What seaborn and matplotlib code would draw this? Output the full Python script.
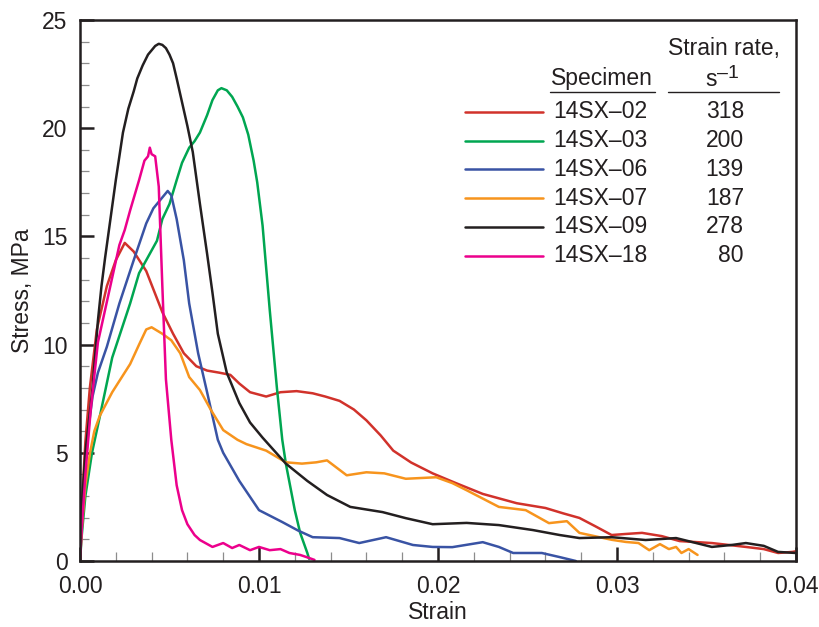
import numpy as np
import pandas as pd
import matplotlib
matplotlib.use("Agg")
import matplotlib.pyplot as plt
from matplotlib.lines import Line2D
from matplotlib.ticker import MultipleLocator, FormatStrFormatter
import seaborn as sns

# ---------------- data ----------------
specimens = ["14SX\u201302", "14SX\u201303", "14SX\u201306", "14SX\u201307", "14SX\u201309", "14SX\u201318"]
strain_rates = ["318", "200", "139", "187", "278", "80"]
colors = ["#d1322b", "#00a651", "#3953a4", "#f7941d", "#231f20", "#ec008c"]

strain_02 = [0, .0001, .0003, .00055, .00094, .0015, .002, .0025, .003, .0037, .0046, .0052, .0058, .0065,
             .0071, .0078, .0084, .0089, .0095, .0104, .0112, .0121, .013, .0137, .0145, .0153, .016, .0168,
             .0175, .0185, .0197, .021, .0225, .0244, .026, .027, .0279, .0288, .0297, .0305, .0314,
             .0325, .0335, .0353, .0372, .0382, .039, .0398, .040]
stress_02 = [0, 2.5, 5.5, 8.0, 10.7, 12.7, 13.9, 14.7, 14.3, 13.4, 11.5, 10.5, 9.6, 9.0,
             8.8, 8.7, 8.6, 8.2, 7.8, 7.6, 7.8, 7.85, 7.75, 7.6, 7.4, 7.0, 6.5, 5.8,
             5.1, 4.55, 4.05, 3.6, 3.1, 2.67, 2.45, 2.2, 1.99, 1.6, 1.2, 1.25, 1.3,
             1.15, 0.92, 0.83, 0.65, 0.55, 0.37, 0.42, 0.45]

strain_03 = [0, .0001, .0003, .00067, .0011, .0018, .0028, .0033, .0037, .0043, .0046, .005, .0054,
             .0057, .0061, .0064, .0067, .0071, .0074, .0077, .0079, .0082, .0085, .0088, .0091,
             .0094, .0097, .0099, .0102, .0106, .011, .0113, .0115, .012, .0123, .0127, .0128]
stress_03 = [0, 1.2, 3.0, 5.0, 6.65, 9.4, 11.9, 13.3, 13.9, 14.8, 15.8, 16.5, 17.6,
             18.4, 19.1, 19.4, 19.8, 20.6, 21.3, 21.75, 21.85, 21.75, 21.45, 21.0, 20.5,
             19.7, 18.5, 17.5, 15.5, 11.6, 8.0, 5.6, 4.5, 2.35, 1.3, 0.37, 0.1]

strain_06 = [0, .0001, .0003, .0005, .0007, .001, .0015, .0022, .003, .0037, .0041, .0045, .0049,
             .0051, .0054, .0058, .0061, .0066, .0071, .0077, .008, .0089, .01, .0113, .0122, .013,
             .0145, .0156, .0171, .0186, .0197, .0208, .0225, .0234, .0242, .0258, .0268, .0277]
stress_06 = [0, 2.0, 4.5, 6.3, 7.6, 8.7, 9.9, 11.9, 13.9, 15.6, 16.3, 16.7, 17.1,
             16.9, 15.8, 13.9, 11.9, 9.6, 7.8, 5.6, 5.0, 3.7, 2.35, 1.8, 1.4, 1.1,
             1.06, 0.83, 1.1, 0.74, 0.65, 0.64, 0.87, 0.65, 0.37, 0.37, 0.18, 0]

strain_07 = [0, .0001, .0003, .00056, .0008, .0011, .0018, .0028, .0033, .0037, .004, .0046, .0051,
             .0056, .0061, .0067, .0073, .008, .0088, .0093, .0104, .0115, .0124, .0132, .0138,
             .0149, .016, .017, .0182, .0199, .0208, .0216, .0234, .0249, .0262, .0272, .0279,
             .0297, .0305, .0312, .0318, .0324, .0329, .0333, .0336, .034, .0345]
stress_07 = [0, 1.5, 3.5, 5.0, 6.0, 6.7, 7.8, 9.1, 10.0, 10.7, 10.8, 10.5, 10.2,
             9.6, 8.5, 7.9, 7.0, 6.05, 5.6, 5.4, 5.1, 4.56, 4.5, 4.56, 4.65,
             3.96, 4.1, 4.05, 3.8, 3.87, 3.6, 3.27, 2.5, 2.35, 1.75, 1.84, 1.3,
             0.98, 0.88, 0.83, 0.5, 0.78, 0.55, 0.65, 0.37, 0.55, 0.28]

strain_09 = [0, .0001, .0003, .0005, .0007, .001, .0012, .0014, .0017, .002, .0024, .0027, .003, .0032,
             .0035, .0038, .004, .0042, .0044, .0046, .0048, .005, .0052, .0054, .0057, .006, .0063, .0067,
             .0071, .0074, .0077, .0082, .0089, .0095, .0102, .0115, .0127, .0138, .0151, .0169, .0182,
             .0197, .0216, .0234, .0253, .0268, .0279, .0297, .0316, .0333, .0353, .0365, .0372,
             .0382, .039, .040]
stress_09 = [0, 2.5, 5.0, 6.5, 8.0, 11.1, 12.7, 14.0, 15.8, 17.6, 19.8, 20.9, 21.7, 22.3,
             22.9, 23.4, 23.6, 23.8, 23.9, 23.85, 23.7, 23.4, 23.0, 22.3, 21.2, 20.1, 18.9, 16.5,
             14.2, 12.4, 10.5, 8.7, 7.3, 6.4, 5.7, 4.5, 3.7, 3.05, 2.5, 2.26, 1.98,
             1.7, 1.76, 1.66, 1.43, 1.2, 1.06, 1.1, 0.97, 1.06, 0.65, 0.75, 0.83,
             0.7, 0.42, 0.37]

strain_18 = [0, .0001, .0003, .0006, .001, .0014, .0018, .0022, .0025, .0028, .0033, .0036, .0038,
             .0039, .004, .0042, .0044, .0046, .0048, .0051, .0054, .0057, .006, .0064, .0067,
             .0074, .008, .0085, .0089, .0095, .01, .0106, .0112, .0117, .0123, .0128, .0131]
stress_18 = [0, 1.5, 4.0, 7.0, 10.1, 11.6, 13.1, 14.6, 15.3, 16.2, 17.6, 18.5, 18.7,
             19.1, 18.8, 18.7, 17.3, 12.7, 8.4, 5.6, 3.5, 2.35, 1.7, 1.2, 0.97,
             0.65, 0.83, 0.6, 0.74, 0.5, 0.65, 0.5, 0.55, 0.37, 0.28, 0.14, 0.05]

series_x = [strain_02, strain_03, strain_06, strain_07, strain_09, strain_18]
series_y = [stress_02, stress_03, stress_06, stress_07, stress_09, stress_18]

frames = []
for name, xs, ys in zip(specimens, series_x, series_y):
    frames.append(pd.DataFrame({"strain": xs, "stress": ys, "specimen": name}))
df = pd.concat(frames, ignore_index=True)

# ---------------- style ----------------
sns.set_theme(style="white")
plt.rcParams["font.family"] = ["Liberation Sans", "DejaVu Sans"]
FS = 16.5
INK = "#231f20"

fig = plt.figure(figsize=(8.2, 6.27), dpi=100)
ax = fig.add_axes([80 / 820, 1 - 561 / 627, (796 - 80) / 820, (561 - 20) / 627])

sns.lineplot(data=df, x="strain", y="stress", hue="specimen", hue_order=specimens,
             palette=colors, sort=False, estimator=None, units="specimen",
             legend=False, linewidth=1.8, ax=ax)
for ln in ax.lines:
    ln.set_solid_joinstyle("round")
    ln.set_solid_capstyle("round")

ax.set_xlim(0, 0.04)
ax.set_ylim(0, 25)
ax.xaxis.set_major_locator(MultipleLocator(0.01))
ax.xaxis.set_minor_locator(MultipleLocator(0.002))
ax.yaxis.set_major_locator(MultipleLocator(5))
ax.yaxis.set_minor_locator(MultipleLocator(1))
ax.xaxis.set_major_formatter(FormatStrFormatter("%.2f"))
ax.yaxis.set_major_formatter(FormatStrFormatter("%d"))

for s in ax.spines.values():
    s.set_visible(True)
    s.set_linewidth(1.8)
    s.set_color(INK)

ax.tick_params(which="major", direction="in", length=10, width=1.8, color=INK,
               labelsize=FS, labelcolor=INK, bottom=True, left=True, top=False, right=False, pad=9)
ax.tick_params(which="minor", direction="in", length=6.5, width=0.9, color="#8c8c8c",
               bottom=True, left=True, top=False, right=False)
ax.tick_params(axis="x", which="major", pad=10)

ax.set_xlabel("Strain", fontsize=FS, color=INK, labelpad=2)
ax.set_ylabel("Stress, MPa", fontsize=FS, color=INK, labelpad=6)

# ---------------- custom legend table ----------------
def fx(px):
    return px / 820

def fy(py):
    return 1 - py / 627

fig.text(fx(724), fy(48), "Strain rate,", fontsize=FS, ha="center", va="center", color=INK)
fig.text(fx(717), fy(80), "s", fontsize=FS, ha="right", va="center", color=INK)
fig.text(fx(717), fy(73), "\u20131", fontsize=FS * 0.85, ha="left", va="center", color=INK)
fig.text(fx(602), fy(79), "Specimen", fontsize=FS, ha="center", va="center", color=INK)
fig.add_artist(Line2D([fx(550), fx(655)], [fy(91.5), fy(91.5)], color=INK, lw=1.0))
fig.add_artist(Line2D([fx(668), fx(779)], [fy(91.5), fy(91.5)], color=INK, lw=1.0))

row0, step = 112, 28.7
for i, (name, rate, col) in enumerate(zip(specimens, strain_rates, colors)):
    yy = fy(row0 + i * step)
    fig.add_artist(Line2D([fx(465), fx(543)], [yy, yy], color=col, lw=1.8))
    fig.text(fx(553), yy, name, fontsize=FS, ha="left", va="center", color=INK)
    fig.text(fx(744), yy, rate, fontsize=FS, ha="right", va="center", color=INK)

fig.savefig("out.png", dpi=100)
